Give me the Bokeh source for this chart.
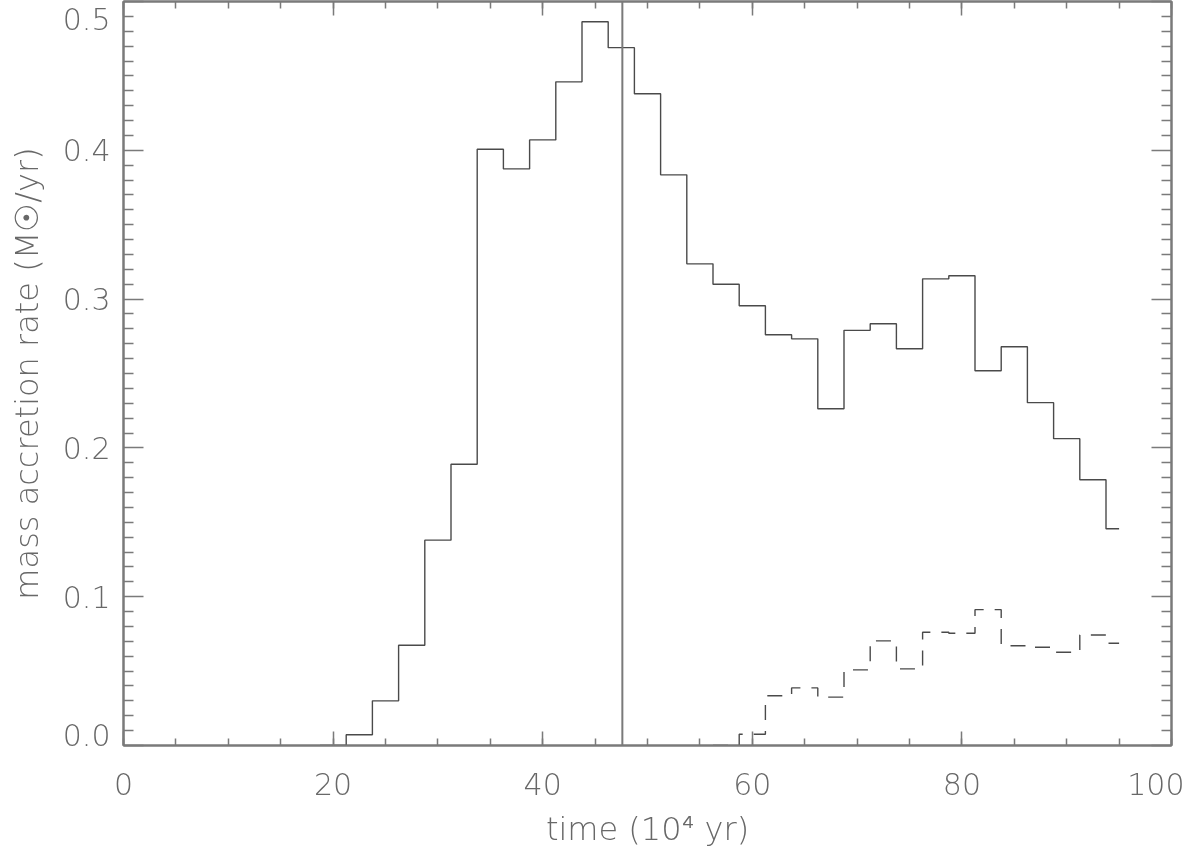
from bokeh.plotting import figure
from bokeh.models import (Range1d, LinearAxis, SingleIntervalTicker, FixedTicker,
                          Span, CustomLabelingPolicy)
from bokeh.embed import file_html
from bokeh.resources import INLINE

# ---- data ----
time_total = [20, 22.5, 25, 27.5, 30, 32.5, 35, 37.5, 40, 42.5, 45, 47.5, 50, 52.5,
              55, 57.5, 60, 62.5, 65, 67.5, 70, 72.5, 75, 77.5, 80, 82.5, 85, 87.5,
              90, 92.5, 95]
rate_total = [0.0, 0.0072, 0.030, 0.0674, 0.138, 0.189, 0.4007, 0.3875, 0.407, 0.446,
              0.4864, 0.469, 0.438, 0.3835, 0.3237, 0.310, 0.2955, 0.276, 0.2733,
              0.2263, 0.279, 0.2834, 0.2666, 0.3136, 0.3157, 0.2518, 0.268, 0.2304,
              0.2062, 0.1786, 0.1457]

time_second = [57.5, 60, 62.5, 65, 67.5, 70, 72.5, 75, 77.5, 80, 82.5, 85, 87.5,
               90, 92.5, 95]
rate_second = [0.0, 0.0076, 0.0334, 0.0387, 0.0325, 0.0508, 0.0703, 0.0515, 0.0761,
               0.0754, 0.0913, 0.067, 0.066, 0.0627, 0.0743, 0.0687]

marker_time = 47.6

x_ticks_major = 20
y_ticks = [0.0, 0.1, 0.2, 0.3, 0.4, 0.5]
y_labels = ["0.0", "0.1", "0.2", "0.3", "0.4", "0.5"]
y_minor = [round(0.01 * i, 2) for i in range(1, 50) if i % 10]

FONT = "DejaVu Sans Light"
AX = "#7a7a7a"
TXT = "#686868"
LINE = "#4a4a4a"

FRAME_H = 744
Y0, Y1 = 0.0, 0.5


def step_path(xc, yv):
    w = xc[1] - xc[0]
    xs, ys = [], []
    for i, (c, v) in enumerate(zip(xc, yv)):
        left = c - w / 2
        right = c + w / 2 if i < len(xc) - 1 else c
        xs += [left, right]
        ys += [v, v]
    return xs, ys


p = figure(frame_width=1048, frame_height=FRAME_H, output_backend="svg",
           toolbar_location=None,
           x_range=Range1d(0, 100), y_range=Range1d(Y0, Y1),
           x_axis_type=None, y_axis_type=None,
           min_border_left=123, min_border_right=13, min_border_top=1,
           min_border_bottom=100)
p.styles = {"position": "fixed", "top": "0px", "left": "0px"}
p.outline_line_color = AX
p.outline_line_width = 2
p.background_fill_color = "white"
p.border_fill_color = "white"

hide_all = CustomLabelingPolicy(code="for (const i of indices) indices.unset(i)")


def style_axis(ax):
    ax.major_tick_out = 0
    ax.minor_tick_out = 0
    ax.axis_line_color = AX
    ax.axis_line_width = 2
    ax.major_tick_line_color = AX
    ax.minor_tick_line_color = AX
    ax.major_tick_line_width = 1.5
    ax.minor_tick_line_width = 1.5
    ax.major_label_text_font = FONT
    ax.major_label_text_color = TXT


def ticks_only(ax):
    ax.major_label_text_font_size = "0px"
    ax.major_label_policy = hide_all
    ax.major_label_standoff = 0
    ax.axis_label = None


# --- bottom axis (labels + title) ---
xb = LinearAxis(ticker=SingleIntervalTicker(interval=x_ticks_major, num_minor_ticks=4))
style_axis(xb)
xb.major_tick_in = 14
xb.minor_tick_in = 7
xb.major_label_text_font_size = "30px"
xb.major_label_standoff = 27
xb.axis_label = "time (10\u2074 yr)"
xb.axis_label_text_font = FONT
xb.axis_label_text_font_size = "32px"
xb.axis_label_text_color = TXT
xb.axis_label_text_font_style = "normal"
xb.axis_label_standoff = 12
p.add_layout(xb, "below")

# --- top axis (ticks only) ---
xt = LinearAxis(ticker=SingleIntervalTicker(interval=x_ticks_major, num_minor_ticks=4))
style_axis(xt)
xt.major_tick_in = 14
xt.minor_tick_in = 7
ticks_only(xt)
p.add_layout(xt, "above")

# --- left axis: ticks only, sits on the frame edge ---
yt = LinearAxis(ticker=FixedTicker(ticks=y_ticks, minor_ticks=y_minor))
style_axis(yt)
yt.major_tick_in = 20
yt.minor_tick_in = 10
ticks_only(yt)
p.add_layout(yt, "left")

# --- left axis: labels + title; end labels pulled inside as in the reference ---
px = (Y1 - Y0) / FRAME_H
label_pos = list(y_ticks)
label_pos[0] = y_ticks[0] + 11 * px
label_pos[-1] = y_ticks[-1] - 17 * px
yl = LinearAxis(ticker=FixedTicker(ticks=label_pos, minor_ticks=[]))
style_axis(yl)
yl.axis_line_color = None
yl.major_tick_line_color = None
yl.minor_tick_line_color = None
yl.major_tick_in = 0
yl.minor_tick_in = 0
yl.major_label_text_font_size = "30px"
yl.major_label_standoff = 13
yl.major_label_overrides = {pos: lab for pos, lab in zip(label_pos, y_labels)}
yl.axis_label = "mass accretion rate (M\u2609/yr)"
yl.axis_label_text_font = FONT
yl.axis_label_text_font_size = "32px"
yl.axis_label_text_color = TXT
yl.axis_label_text_font_style = "normal"
yl.axis_label_standoff = 14
p.add_layout(yl, "left")

# --- right axis (ticks only) ---
yr = LinearAxis(ticker=FixedTicker(ticks=y_ticks, minor_ticks=y_minor))
style_axis(yr)
yr.major_tick_in = 20
yr.minor_tick_in = 10
ticks_only(yr)
p.add_layout(yr, "right")

xs1, ys1 = step_path(time_total, rate_total)
p.line(xs1, ys1, line_color=LINE, line_width=1.4)

xs2, ys2 = step_path(time_second, rate_second)
p.line(xs2, ys2, line_color=LINE, line_width=1.4, line_dash="15 11")

p.add_layout(Span(location=marker_time, dimension="height", line_color=AX, line_width=2))

open("out.html", "w").write(file_html(p, INLINE))
